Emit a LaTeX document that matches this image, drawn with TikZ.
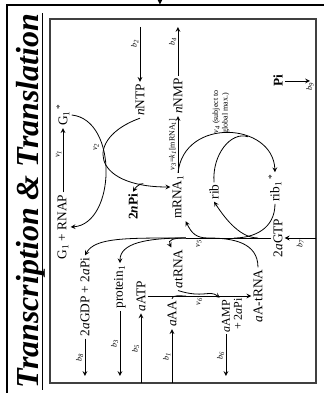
\documentclass[tikz,border=0pt]{standalone}
\usepackage{fontspec}
\setmainfont{Liberation Serif}
\usetikzlibrary{calc}
\newcommand{\bflux}[1]{\textit{b}\textsubscript{\textit{#1}}}
\newcommand{\vrate}[1]{\textit{v}\textsubscript{\textit{#1}}}
\tikzset{
  spec/.style={font=\fontsize{10}{12}\selectfont, inner sep=1.5pt},
  specb/.style={font=\fontsize{10}{12}\selectfont\bfseries, inner sep=1.5pt},
  specs/.style={font=\fontsize{9}{10}\selectfont, inner sep=1.5pt},
  rate/.style={font=\fontsize{6}{7}\selectfont, inner sep=1pt},
  flux/.style={->, line width=0.6pt},
  link/.style={line width=0.6pt},
}
\begin{document}
\begin{tikzpicture}[x=0.75pt, y=0.75pt, rotate=90, transform shape, >=stealth]
  \useasboundingbox (0,0) rectangle (393,324);
  % frame and title
  \draw[line width=1.5pt] (0,317) -- (388,317) -- (388,0);
  \draw[->, line width=0.8pt] (393,164) -- (388.5,164);
  \node[font=\fontsize{24}{28}\selectfont\bfseries\itshape, anchor=base, inner sep=0pt] (title) at (192,285) {Transcription \& Translation};
  \draw[line width=0.8pt] (3,281.5) -- (380,281.5);
  \draw[line width=1pt, black!75] (10,8) rectangle (374,274);

  % species
  \node[spec] (G1RNAP) at (166,261) {G\textsubscript{1} + RNAP};
  \node[spec] (G1star) at (278,261) {G\textsubscript{1}\textsuperscript{\,*}};
  \node[spec] (nNTP) at (293,184) {\textit{n}NTP};
  \node[specb] (twonPi) at (186,191) {2\textit{n}Pi};
  \node[spec] (mRNA) at (196,146) {mRNA\textsubscript{1}};
  \node[spec] (nNMP) at (297,146) {\textit{n}NMP};
  \node[spec] (rib) at (201,110) {rib};
  \node[spec] (rib1star) at (205,49) {rib\textsubscript{1}\textsuperscript{\,*}};
  \node[spec] (GTP) at (155,46) {2\textit{a}GTP};
  \node[specb] (Pi) at (312,46) {Pi};
  \node[spec] (aAtRNA) at (97,66) {\textit{a}A-tRNA};
  \node[spec] (atRNA) at (124,146) {\textit{a}tRNA};
  \node[spec] (aAA) at (79,152) {\textit{a}AA};
  \node[spec] (aATP) at (97,183) {\textit{a}ATP};
  \node[spec] (protein) at (106,204) {protein\textsubscript{1}};
  \node[spec] (GDP) at (96,239) {2\textit{a}GDP + 2\textit{a}Pi};
  \node[specs] (aAMP) at (77,98) {\textit{a}AMP};
  \node[specs] (aAMPpi) at (79,86) {+ 2\textit{a}Pi};

  % exchange fluxes
  \coordinate (b2end) at (366,184);
  \coordinate (b4end) at (366,146);
  \coordinate (b7end) at (155,8);
  \coordinate (b9end) at (312,14);
  \coordinate (b8end) at (17,239);
  \coordinate (b3end) at (17,204);
  \coordinate (b5end) at (10,183);
  \coordinate (b1end) at (10,152);
  \coordinate (b6end) at (17,98);
  \draw[flux] (b2end) -- node[rate, above, pos=.3] (b2lab) {\bflux{2}} (nNTP);
  \draw[flux] (nNMP) -- node[rate, above, pos=.7] (b4lab) {\bflux{4}} (b4end);
  \draw[flux] (b7end) -- node[rate, left] (b7lab) {\bflux{7}} (GTP);
  \draw[flux] (Pi) -- (b9end) node[rate, left] (b9lab) {\bflux{9}};
  \draw[flux] (GDP) -- node[rate, above] (b8lab) {\bflux{8}} (b8end);
  \draw[flux] (protein) -- node[rate, above] (b3lab) {\bflux{3}} (b3end);
  \draw[flux] (b5end) -- node[rate, above] (b5lab) {\bflux{5}} (aATP);
  \draw[flux] (b1end) -- node[rate, above] (b1lab) {\bflux{1}} (aAA);
  \draw[flux] (aAMP) -- node[rate, above] (b6lab) {\bflux{6}} (b6end);

  % v1, v2
  \draw[flux] (G1RNAP) -- node[rate, above, pos=.6] (v1lab) {\vrate{1}} (G1star);
  \draw[flux] (G1star.south) .. controls +(-5,-47) and +(3,-45) .. (G1RNAP.south);
  \draw[flux] (nNTP.west) .. controls +(-20,56) and +(0,80) .. coordinate[pos=.85] (pibranch) ($(mRNA.north)+(10,0)$);
  \draw[flux] (pibranch) .. controls +(0,-10) and +(10,-6) .. (twonPi.east);
  \node[rate] (v2lab) at (246,228) {\vrate{2}};

  % v3, v4
  \draw[flux] (mRNA) -- node[rate, above] (v3lab) {\vrate{3}=\textit{k}\textsubscript{\textit{1}}[mRNA\textsubscript{1}]} (nNMP);
  \draw[flux] (mRNA.east) .. controls +(56,-6) and +(50,2) .. coordinate[pos=.65] (ribjoin) (rib1star.east);
  \draw[link] (rib.east) .. controls +(28,2) and +(6,17) .. (ribjoin);
  \node[rate, anchor=west, align=left] (v4lab) at (258,103) {\vrate{4} (subject to\\global max.)};

  % v5
  \coordinate (v5low) at (155,66);
  \coordinate (v5rib) at (155,90);
  \coordinate (v5mid) at (155,116);
  \coordinate (v5top) at (155,138);
  \draw[link] (GTP) -- node[rate, left, pos=.85] (v5lab) {\vrate{5}} (v5top);
  \draw[link] (rib1star.west) .. controls +(-25,0) and +(0,-20) .. (v5rib);
  \draw[flux] (v5low) .. controls +(0,20) and +(-12,-8) .. (rib.west);
  \draw[link] (aAtRNA.east) .. controls +(25,0) and +(0,-25) .. (v5mid);
  \draw[flux] (v5mid) .. controls +(0,12) and +(-12,-6) .. (mRNA.south west);
  \draw[flux] (v5top) .. controls +(0,12) and +(8,4) .. (atRNA.north east);
  \draw[flux] (v5top) .. controls +(0,40) and +(20,0) .. (protein.east);
  \draw[flux] (v5top) .. controls +(0,60) and +(18,-10) .. (GDP.east);

  % v6
  \coordinate (v6in) at (97,138);
  \draw[flux] (aATP) -- node[rate, left] (v6lab) {\vrate{6}} (aAtRNA);
  \draw[link] (aAA.east) .. controls +(4,0) and +(0,6) .. (v6in);
  \draw[flux] (atRNA.west) .. controls +(-8,-25) and +(8,10) .. (aAMP.north east);
\end{tikzpicture}
\end{document}
